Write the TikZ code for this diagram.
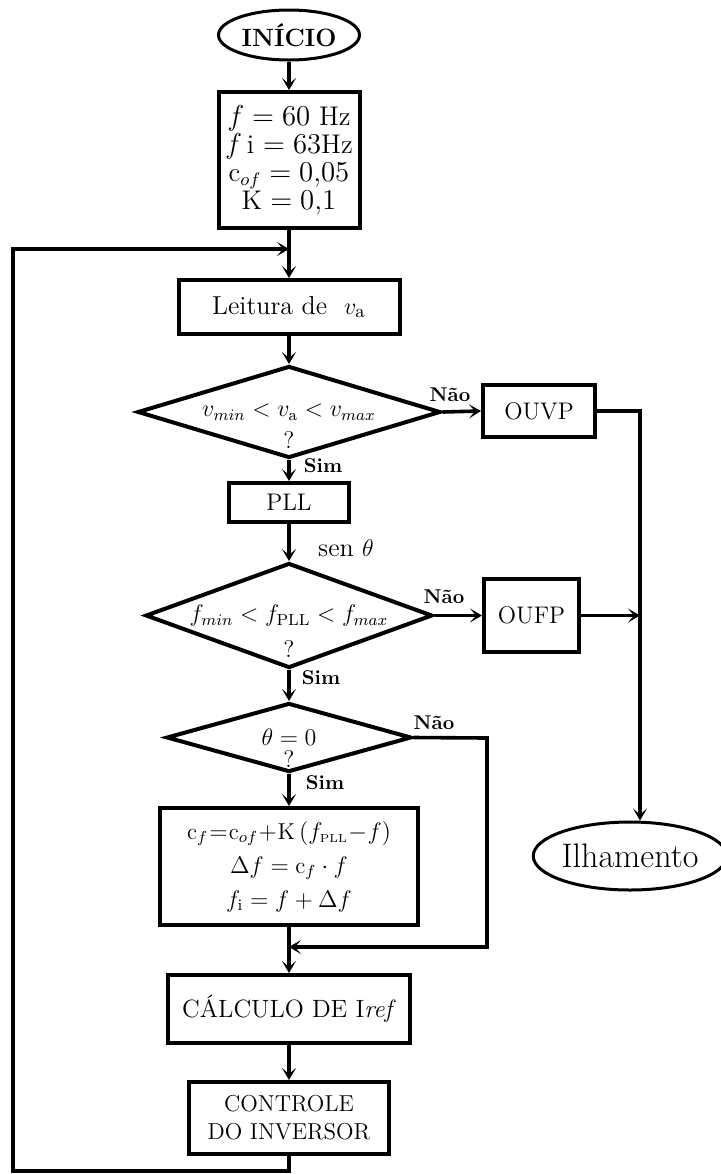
\documentclass[tikz,border=0pt]{standalone}
\usepackage{fontspec}
\usepackage{amsmath}
\usepackage{tikz}
\usetikzlibrary{shapes.geometric}
\usetikzlibrary{arrows.meta}

\newcommand{\condtext}[1]{\makebox[0pt]{#1}}

\begin{document}
\begin{tikzpicture}[x=0.5pt, y=-0.5pt, line width=1.8pt,
    >={Stealth[length=6pt,width=7pt,inset=3pt]},
    terminal/.style={draw, ellipse, line width=1.5pt, inner sep=0pt},
    block/.style={draw, rectangle, line width=2pt, inner sep=0pt, align=center,
      font=\fontsize{12}{14}\selectfont},
    decision/.style={draw, diamond, line width=2pt, inner sep=0pt,
      font=\fontsize{12}{14}\selectfont},
    answer/.style={inner sep=0pt, font=\fontsize{10}{12}\selectfont\bfseries}]
    \useasboundingbox (0,0) rectangle (720,1174);

    % main column
    \node[terminal, minimum width=70.5pt, minimum height=25pt,
      font=\fontsize{12.5}{14}\selectfont\bfseries] (start) at (289,35) {INÍCIO};
    \node[block, minimum width=70.5pt, minimum height=68pt,
      font=\fontsize{13.5}{14}\selectfont] (param) at (289,160)
      {$f = 60$ Hz\\ $f\,$i $= 63$Hz\\ $\mathrm{c}_{of} = 0{,}05$\\ $\mathrm{K} = 0{,}1$};
    \node[block, minimum width=110.5pt, minimum height=27pt,
      font=\fontsize{13}{15}\selectfont] (lei) at (289,307) {Leitura de\ \ $v_{\mathrm{a}}$};
    \node[decision, minimum width=151.5pt, minimum height=46pt,
      label={[yshift=-14pt, font=\fontsize{12}{14}\selectfont]center:?}] (d1) at (289,412)
      {\condtext{$v_{min} < v_{\mathrm{a}} < v_{max}$}};
    \node[block, minimum width=60pt, minimum height=19.5pt] (pll) at (289,502.5) {PLL};
    \node[decision, minimum width=143.5pt, minimum height=52.5pt,
      label={[yshift=-17pt, font=\fontsize{12}{14}\selectfont]center:?}] (d2) at (289,615.5)
      {\condtext{$f_{min} < f_{\mathrm{PLL}} < f_{max}$}};
    \node[decision, minimum width=122.5pt, minimum height=34.5pt,
      font=\fontsize{13}{15}\selectfont,
      label={[yshift=-11pt, font=\fontsize{12}{14}\selectfont]center:?}] (d3) at (289,737.5)
      {\condtext{$\theta = 0$}};
    \node[block, minimum width=129pt, minimum height=58.5pt,
      font=\fontsize{11.5}{17}\selectfont] (calc) at (289,866.5)
      {{\thickmuskip=1mu\medmuskip=0.5mu
        $\mathrm{c}_f = \mathrm{c}_{of} + \mathrm{K}\,(f_{\scriptscriptstyle\mathrm{PLL}} - f)$}\\
       $\Delta f = \mathrm{c}_f \cdot f$\\
       $f_{\mathrm{i}} = f + \Delta f$};
    \node[block, minimum width=121pt, minimum height=34pt,
      font=\fontsize{12.5}{14}\selectfont] (iref) at (289,1009)
      {CÁLCULO DE I\textit{ref}};
    \node[block, minimum width=100pt, minimum height=36pt,
      font=\fontsize{11.5}{14}\selectfont] (inv) at (289,1118)
      {CONTROLE\\ DO INVERSOR};

    % protections on the right
    \node[block, minimum width=56pt, minimum height=26pt] (ouvp) at (539,411) {OUVP};
    \node[block, minimum width=47.5pt, minimum height=36.5pt] (oufp) at (531.5,615.5) {OUFP};
    \node[terminal, minimum width=88pt, minimum height=34pt,
      font=\fontsize{17}{19}\selectfont] (ilh) at (630,856) {Ilhamento};

    % labels
    \node[answer] (no1) at (450,395) {Não};
    \node[answer] (yes1) at (323,466) {Sim};
    \node[font=\fontsize{13}{15}\selectfont] (sen) at (346,548) {sen $\theta$};
    \node[answer] (no2) at (444,597) {Não};
    \node[answer] (yes2) at (321,678) {Sim};
    \node[answer] (no3) at (434,723) {Não};
    \node[answer] (yes3) at (325,783) {Sim};

    \coordinate (loopin) at (289,249);
    \coordinate (loopbl) at (13,1171);
    \coordinate (trip) at (640,411);
    \coordinate (skip) at (487,738);
    \coordinate (skipin) at (289,947);

    \draw[->] (start) -- (param);
    \draw[->] (param) -- (lei);
    \draw[->] (lei) -- (d1);
    \draw[->] (d1) -- (pll);
    \draw[->] (pll) -- (d2);
    \draw[->] (d2) -- (d3);
    \draw[->] (d3) -- (calc);
    \draw[->] (calc) -- (iref);
    \draw[->] (iref) -- (inv);
    \draw[->] (inv.south) |- (loopbl) |- (loopin);

    \draw[->] (d1.east) -- (ouvp.west);
    \draw[->] (d2.east) -- (oufp.west);
    \draw[->] (ouvp.east) -- (trip) -- (trip |- ilh.north);
    \draw[->] (oufp.east) -- (oufp.east -| trip);
    \draw[->] (d3.east) -- (skip) |- (skipin);
\end{tikzpicture}
\end{document}
